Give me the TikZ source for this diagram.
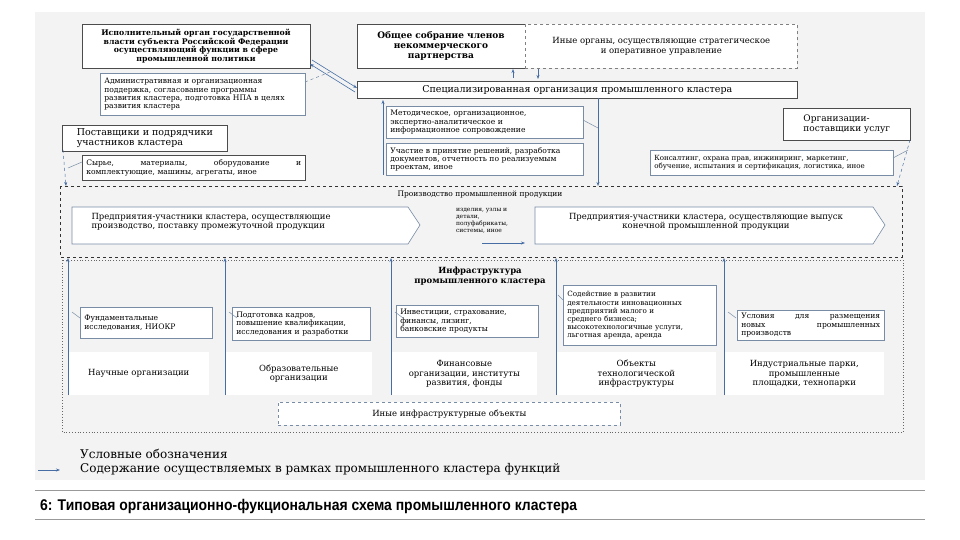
\documentclass[tikz,border=0pt]{standalone}
\usepackage{fontspec}
\setmainfont{DejaVu Serif}
\newfontfamily\capfont{Liberation Sans}
\usetikzlibrary{arrows.meta}
\definecolor{arr}{RGB}{70,110,165}
\definecolor{bord}{RGB}{120,140,165}
\definecolor{pan}{RGB}{243,243,243}
\tikzset{
 box/.style={draw=black!70,fill=white,line width=0.6pt,align=center,inner sep=1pt,font=\fontsize{8.5}{9.5}\selectfont},
 call/.style={draw=bord,fill=white,line width=0.5pt,align=left,inner xsep=4pt,inner ysep=3pt,font=\fontsize{7.6}{8.4}\selectfont},
 txt/.style={align=center,font=\fontsize{8.5}{9.5}\selectfont},
 ar/.style={-{Stealth[length=4pt,width=3pt]},draw=arr,line width=0.6pt},
 pt/.style={draw=bord,line width=0.5pt}
}
\begin{document}
\begin{tikzpicture}[x=1pt,y=-1pt]
\useasboundingbox (0,0) rectangle (960,540);
\fill[white] (0,0) rectangle (960,540);
\fill[pan] (35,12) rectangle (925,480);
% top boxes
\node[box,minimum width=228,minimum height=44,font=\bfseries\fontsize{7.8}{8.6}\selectfont] (A) at (196,46) {Исполнительный орган государственной\\власти субъекта Российской Федерации\\осуществляющий функции в сфере\\промышленной политики};
\node[box,minimum width=168,minimum height=44,font=\bfseries\fontsize{9}{10}\selectfont] (B) at (441,46) {Общее собрание членов\\некоммерческого\\партнерства};
\node[box,dashed,draw=black!50,minimum width=272,minimum height=44,font=\fontsize{8.5}{9.5}\selectfont,anchor=north west] (C) at (525,24) {Иные органы, осуществляющие стратегическое\\и оперативное управление};
\node[box,minimum width=440,minimum height=17,font=\fontsize{9.5}{10.5}\selectfont,anchor=north west] (D) at (357,81) {Специализированная организация промышленного кластера};
\node[call,anchor=north west,text width=197,minimum height=42] (E) at (100,73) {Административная и организационная\\поддержка, согласование программы\\развития кластера, подготовка НПА в целях\\развития кластера};
\draw[pt,dashed] (305,82) -- (330,72);
\draw[ar] (312,60) -- (357,88);
\draw[ar] (355,92) -- (310,64);
\draw[ar] (513,78) -- (513,69);
\draw[ar] (538,69) -- (538,79);
% suppliers
\node[box,anchor=north west,minimum width=165,minimum height=25,align=left,font=\fontsize{9.5}{10.5}\selectfont,inner sep=3pt] (F) at (62,125) {Поставщики и подрядчики\\участников кластера};
\node[call,draw=black!70,anchor=north west,text width=215,minimum height=25] (G) at (82,155) {Сырье,\hfill материалы,\hfill оборудование\hfill и\\комплектующие, машины, агрегаты, иное};
\draw[pt] (82,162) -- (68,168);
\draw[arr,line width=0.5pt,dashed,-{Stealth[length=4pt]}] (63,150) -- (66,186);
% methodic
\node[call,anchor=north west,text width=189,minimum height=32] (H) at (386,106) {Методическое, организационное,\\экспертно-аналитическое и\\информационное сопровождение};
\node[call,anchor=north west,text width=189,minimum height=32] (I) at (386,143) {Участие в принятие решений, разработка\\документов, отчетность по реализуемым\\проектам, иное};
\draw[pt] (583,120) -- (598,128);
\draw[ar] (598,98) -- (598,186);
\draw[ar] (383,175) -- (383,100);
% services
\node[box,anchor=north west,minimum width=127,minimum height=32,align=left,font=\fontsize{9}{10}\selectfont,inner sep=4pt] (J) at (783,108) {Организации-\\поставщики услуг};
\node[call,anchor=north west,text width=235,minimum height=25,font=\fontsize{7.1}{8}\selectfont] (K) at (650,150) {Консалтинг, охрана прав, инжиниринг, маркетинг,\\обучение, испытания и сертификация, логистика, иное};
\draw[pt] (893,158) -- (908,150);
\draw[arr,line width=0.5pt,dashed,-{Stealth[length=4pt]}] (910,140) -- (897,186);
% production
\draw[black!80,dashed,line width=0.8pt] (60,186) rectangle (902,257);
\node[txt,font=\fontsize{7.5}{8.5}\selectfont] (P) at (480,195) {Производство промышленной продукции};
\draw[bord,fill=white,line width=0.6pt] (72,207) -- (408,207) -- (420,225) -- (408,244) -- (72,244) -- cycle;
\node[txt,align=left,anchor=west] (L) at (88,222) {Предприятия-участники кластера, осуществляющие\\производство, поставку промежуточной продукции};
\draw[bord,fill=white,line width=0.6pt] (535,207) -- (873,207) -- (885,225) -- (873,244) -- (535,244) -- cycle;
\node[txt] (M) at (706,222) {Предприятия-участники кластера, осуществляющие выпуск\\конечной промышленной продукции};
\node[txt,font=\fontsize{6}{6.8}\selectfont,align=left] (N) at (482,221) {изделия, узлы и\\детали,\\полуфабрикаты,\\системы, иное};
\coordinate (n1) at (482,243); \coordinate (n2) at (525,243);
\draw[ar] (n1) -- (n2);
% infrastructure
\draw[black!60,dotted,line width=0.8pt] (62,260) rectangle (903,432);
\node[txt,font=\bfseries\fontsize{8.5}{9.5}\selectfont] (Q) at (480,276) {Инфраструктура\\промышленного кластера};
\foreach \x/\w/\t [count=\i] in {68/141/{Научные организации},225/147/{Образовательные\\организации},391/146/{Финансовые\\организации, институты\\развития, фонды},556/160/{Объекты\\технологической\\инфраструктуры},724/160/{Индустриальные парки,\\промышленные\\площадки, технопарки}}{
 \node[box,draw=none,anchor=north west,minimum width=\w,minimum height=43,font=\fontsize{8.5}{9.5}\selectfont] (b\i) at (\x,352) {\t};
 \draw[ar] (\x,395) -- (\x,258);
}
\node[call,anchor=north west,text width=124,minimum height=31] (c1) at (80,307) {Фундаментальные\\исследования, НИОКР};
\node[call,anchor=north west,text width=130,minimum height=33] (c2) at (232,307) {Подготовка кадров,\\повышение квалификации,\\исследования и разработки};
\node[call,anchor=north west,text width=134,minimum height=32] (c3) at (396,305) {Инвестиции, страхование,\\финансы, лизинг,\\банковские продукты};
\node[call,anchor=north west,text width=145,minimum height=60,font=\fontsize{7.2}{8.1}\selectfont] (c4) at (563,285) {Содействие в развитии\\деятельности инновационных\\предприятий малого и\\среднего бизнеса;\\высокотехнологичные услуги,\\льготная аренда, аренда};
\node[call,anchor=north west,text width=139,minimum height=30] (c5) at (737,310) {Условия\hfill для\hfill размещения\\новых\hfill промышленных\\производств};
\foreach \i/\x in {1/68,2/225,3/391,5/724}{\draw[pt] (\x+12,318) -- (\x+4,312);}
\draw[pt] (563,300) -- (558,295);
\node[box,dashed,draw=bord,anchor=north west,minimum width=342,minimum height=23,font=\fontsize{8.5}{9.5}\selectfont] (R) at (278,402) {Иные инфраструктурные объекты};
% legend
\node[anchor=west,font=\fontsize{12}{13}\selectfont,inner sep=0] (U) at (80,454) {Условные обозначения};
\node[anchor=west,font=\fontsize{12}{13}\selectfont,inner sep=0] (V) at (80,469) {Содержание осуществляемых в рамках промышленного кластера функций};
\coordinate (v1) at (38,470); \coordinate (v2) at (60,470);
\draw[ar] (v1) -- (v2);
% caption
\draw[black!40,line width=0.5pt] (35,490) -- (925,490);
\draw[black!40,line width=0.5pt] (35,519) -- (925,519);
\node[anchor=west,font=\capfont\bfseries\fontsize{15.5}{17}\selectfont,inner sep=0,xscale=0.9,transform shape] (T) at (40,506) {6: Типовая организационно-фукциональная схема промышленного кластера};
\end{tikzpicture}
\end{document}
